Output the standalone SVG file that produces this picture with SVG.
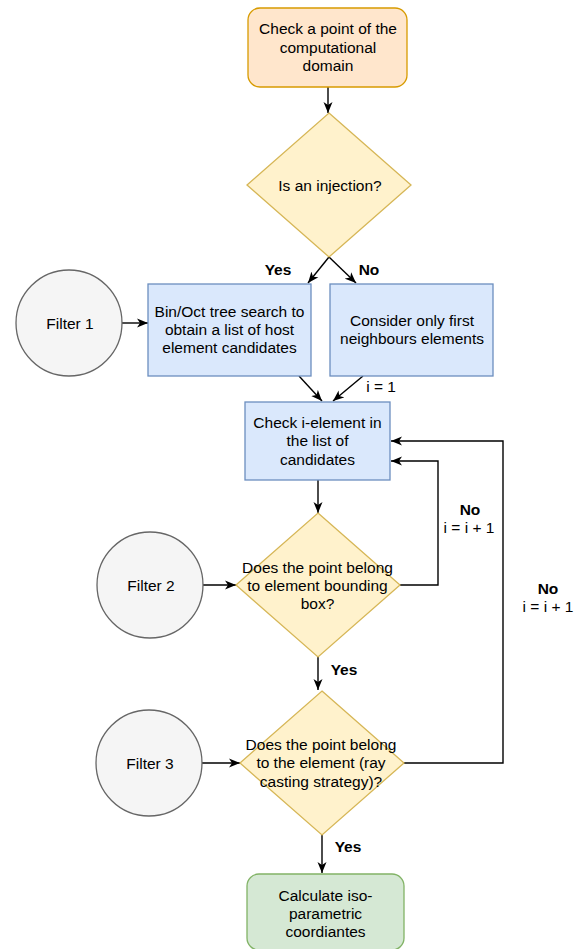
<svg xmlns="http://www.w3.org/2000/svg" width="582" height="949" viewBox="0 0 582 949">
<defs>
<marker id="ah" markerUnits="userSpaceOnUse" markerWidth="12" markerHeight="10" viewBox="0 0 12 10" refX="11" refY="5" orient="auto">
<path d="M0,0.5 L11,5 L0,9.5 L3,5 Z" fill="#000"/>
</marker>
</defs>
<style>
text{font-family:"Liberation Sans",Arial,Helvetica,sans-serif;font-size:15.5px;fill:#000;text-anchor:middle}
.b{font-weight:bold}
.c{fill:none;stroke:#000;stroke-width:1.4;marker-end:url(#ah)}
.blue{fill:#dae8fc;stroke:#6c8ebf;stroke-width:1.3}
.dia{fill:#fff2cc;stroke:#d6b656;stroke-width:1.3}
.circ{fill:#f5f5f5;stroke:#666;stroke-width:1.3}
</style>
<rect width="582" height="949" fill="#fff"/>
<g id="connectors">
<path class="c" d="M328,87 L328,113"/>
<path class="c" d="M329,257 L308,283"/>
<path class="c" d="M329,257 L356,283"/>
<path class="c" d="M122,323 L148,323"/>
<path class="c" d="M299,376 L322,401"/>
<path class="c" d="M363,376 L333,401"/>
<path class="c" d="M318,480 L318,513"/>
<path class="c" d="M400,585 L438,585 L438,461 L391,461"/>
<path class="c" d="M404,763 L503,763 L503,441 L391,441"/>
<path class="c" d="M203,585 L236,585"/>
<path class="c" d="M318,657 L318,690"/>
<path class="c" d="M202,763 L240,763"/>
<path class="c" d="M322,835 L322,873"/>
<text class="b" x="278" y="275">Yes</text>
<text class="b" x="369" y="275">No</text>
<text x="381" y="392">i = 1</text>
<text class="b" x="470" y="515">No</text>
<text x="469" y="533">i = i + 1</text>
<text class="b" x="548" y="594">No</text>
<text x="548" y="612">i = i + 1</text>
<text class="b" x="344" y="675">Yes</text>
<text class="b" x="348" y="852">Yes</text>
</g>
<g id="start">
<rect x="248" y="8" width="159" height="79" rx="12" fill="#ffe6cc" stroke="#d79b00" stroke-width="1.3"/>
<text x="328" y="34">Check a point of the</text>
<text x="328" y="52.5">computational</text>
<text x="328" y="71">domain</text>
</g>
<g id="injection">
<polygon class="dia" points="329,113 411,185 329,257 247,185"/>
<text x="330" y="190.5">Is an injection?</text>
</g>
<g id="filter1">
<circle class="circ" cx="69" cy="323" r="53"/>
<text x="70" y="328.5">Filter 1</text>
</g>
<g id="bintree">
<rect class="blue" x="148" y="284" width="163" height="92"/>
<text x="229.5" y="316.5">Bin/Oct tree search to</text>
<text x="229.5" y="334.5">obtain a list of host</text>
<text x="229.5" y="352.5">element candidates</text>
</g>
<g id="neighbours">
<rect class="blue" x="330" y="284" width="163" height="92"/>
<text x="412" y="325.5">Consider only first</text>
<text x="412" y="343.5">neighbours elements</text>
</g>
<g id="check">
<rect class="blue" x="245" y="402" width="145" height="78"/>
<text x="317.5" y="427.5">Check i-element in</text>
<text x="317.5" y="446">the list of</text>
<text x="317.5" y="464.5">candidates</text>
</g>
<g id="filter2">
<circle class="circ" cx="150" cy="585" r="53"/>
<text x="151" y="590.5">Filter 2</text>
</g>
<g id="bbox">
<polygon class="dia" points="318,513 400,585 318,657 236,585"/>
<text x="317.5" y="572.5">Does the point belong</text>
<text x="317.5" y="590.5">to element bounding</text>
<text x="317.5" y="608.5">box?</text>
</g>
<g id="filter3">
<circle class="circ" cx="149" cy="763" r="53"/>
<text x="150" y="768.5">Filter 3</text>
</g>
<g id="raycast">
<polygon class="dia" points="322,691 404,763 322,835 240,763"/>
<text x="321" y="749.5">Does the point belong</text>
<text x="321" y="768">to the element (ray</text>
<text x="321" y="786.5">casting strategy)?</text>
</g>
<g id="calc">
<rect x="247" y="874" width="157" height="76" rx="12" fill="#d5e8d4" stroke="#82b366" stroke-width="1.3"/>
<text x="325.5" y="900.5">Calculate iso-</text>
<text x="325.5" y="918.5">parametric</text>
<text x="325.5" y="937">coordiantes</text>
</g>
</svg>
